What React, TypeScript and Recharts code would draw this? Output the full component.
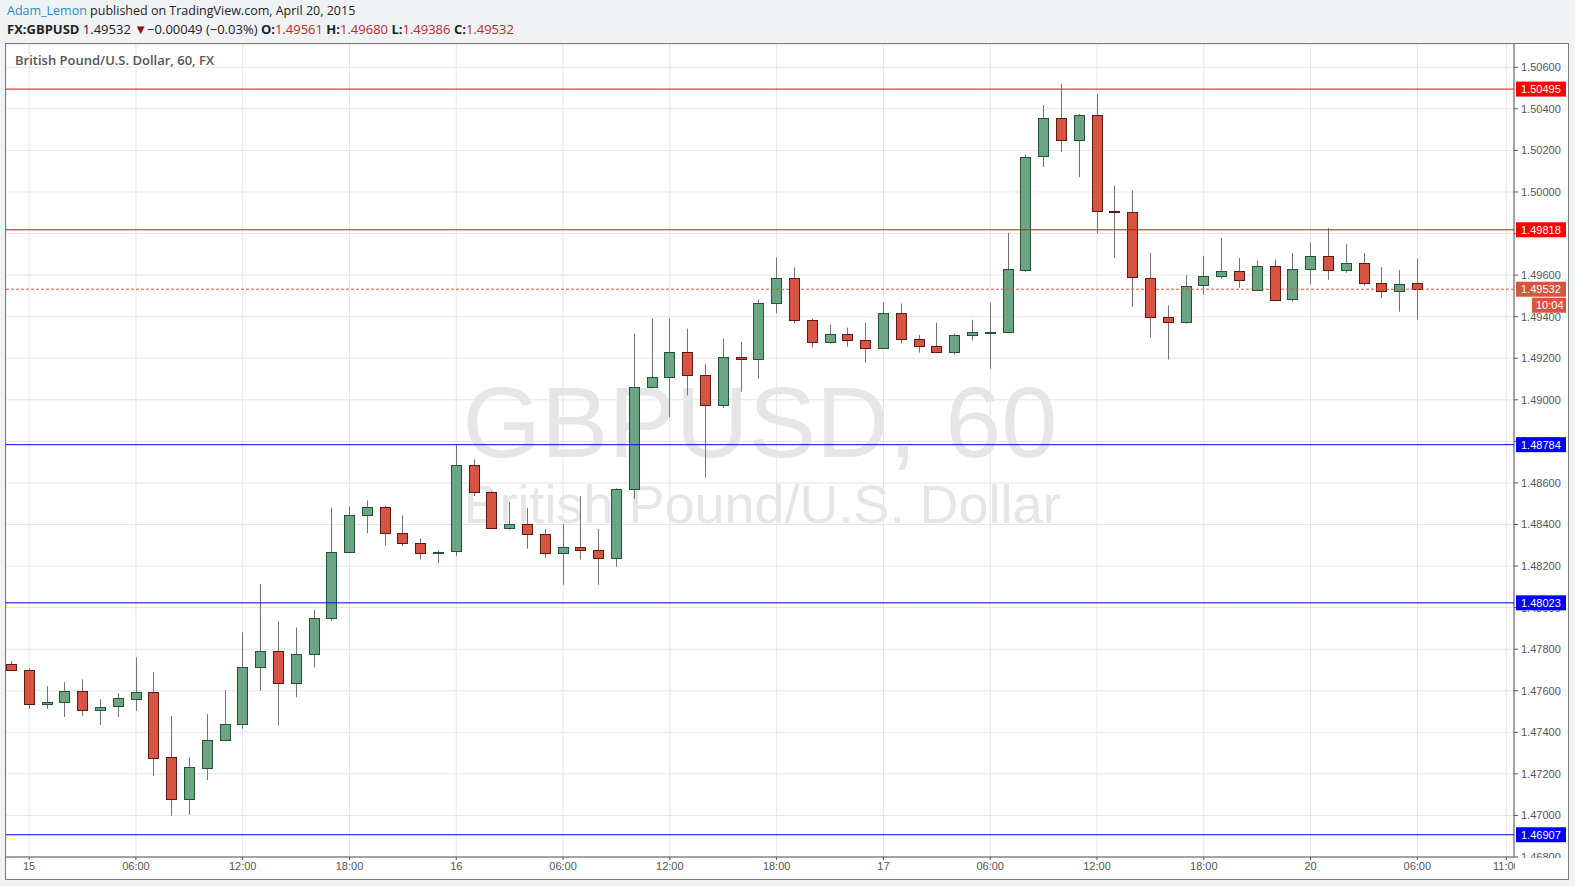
import React from 'react';
import { ComposedChart, Bar, XAxis, YAxis, CartesianGrid, ReferenceLine } from 'recharts';

// hourly bars, first one is 14th 23:00 (index -1), "15" is index 0
const firstIndex = -1;

const opens = [
  1.47731, 1.47702, 1.47538, 1.47548, 1.47601, 1.4751, 1.47524, 1.47563, 1.47596, 1.47279,
  1.47077, 1.47231, 1.47365, 1.47442, 1.47714, 1.47791, 1.47637, 1.47777, 1.4795, 1.48268,
  1.48447, 1.48485, 1.4836, 1.48312, 1.48263, 1.48268, 1.48684, 1.48554, 1.48382, 1.48401,
  1.48353, 1.48261, 1.4829, 1.48276, 1.48237, 1.48569, 1.49061, 1.49109, 1.4923, 1.49118,
  1.48973, 1.49205, 1.49195, 1.49466, 1.49587, 1.49384, 1.49277, 1.49316, 1.49287, 1.49248,
  1.49418, 1.49292, 1.49258, 1.49229, 1.49311, 1.49326, 1.49326, 1.49627, 1.5017, 1.50354,
  1.50247, 1.50368, 1.49908, 1.49903, 1.49588, 1.49399, 1.49375, 1.4955, 1.49594, 1.49618,
  1.49531, 1.49646, 1.49483, 1.49627, 1.4969, 1.49622, 1.49656, 1.4956, 1.49522, 1.49561,
];
const highs = [
  1.47744, 1.47707, 1.47622, 1.47641, 1.47655, 1.47559, 1.47588, 1.47761, 1.47689, 1.47478,
  1.47279, 1.47487, 1.47603, 1.47881, 1.48114, 1.47933, 1.47904, 1.4799, 1.48482, 1.48487,
  1.48516, 1.4849, 1.48443, 1.48333, 1.48275, 1.48786, 1.48713, 1.48561, 1.48508, 1.4848,
  1.48378, 1.48402, 1.48537, 1.48378, 1.48574, 1.49318, 1.4939, 1.4939, 1.49342, 1.49173,
  1.49294, 1.49279, 1.49482, 1.49685, 1.49637, 1.4939, 1.49361, 1.49347, 1.49371, 1.49468,
  1.49463, 1.49313, 1.49371, 1.49318, 1.49385, 1.49468, 1.49803, 1.50181, 1.50418, 1.5052,
  1.50375, 1.50472, 1.50031, 1.50006, 1.49706, 1.49454, 1.49599, 1.49691, 1.49778, 1.49682,
  1.4967, 1.49675, 1.49706, 1.49757, 1.49826, 1.49749, 1.49706, 1.49638, 1.49624, 1.4968,
];
const lows = [
  1.47696, 1.47513, 1.47513, 1.47474, 1.47479, 1.47436, 1.47474, 1.47503, 1.47191, 1.46998,
  1.47003, 1.47171, 1.47359, 1.47417, 1.476, 1.47433, 1.47568, 1.47712, 1.47934, 1.48265,
  1.48358, 1.48299, 1.48296, 1.48233, 1.48214, 1.48247, 1.48537, 1.48378, 1.48375, 1.48284,
  1.4824, 1.4811, 1.48231, 1.4811, 1.48197, 1.48523, 1.49055, 1.48916, 1.49021, 1.48626,
  1.48961, 1.49039, 1.49102, 1.49416, 1.49368, 1.49252, 1.49271, 1.49256, 1.49179, 1.49245,
  1.49271, 1.49227, 1.49226, 1.49218, 1.49285, 1.4915, 1.49325, 1.49616, 1.5012, 1.50192,
  1.50071, 1.498, 1.49683, 1.49446, 1.493, 1.49194, 1.49367, 1.49506, 1.49582, 1.49539,
  1.49526, 1.49481, 1.49472, 1.49554, 1.49578, 1.49611, 1.49549, 1.49491, 1.49424, 1.49386,
];
const closes = [
  1.47702, 1.47538, 1.47548, 1.47601, 1.4751, 1.47524, 1.47563, 1.47596, 1.47279, 1.47077,
  1.47231, 1.47365, 1.47442, 1.47716, 1.47791, 1.47637, 1.47777, 1.4795, 1.48268, 1.48447,
  1.48485, 1.4836, 1.48312, 1.48263, 1.48267, 1.48684, 1.48554, 1.48382, 1.48401, 1.48353,
  1.48261, 1.4829, 1.48276, 1.48237, 1.48569, 1.49061, 1.49109, 1.4923, 1.49119, 1.48973,
  1.49205, 1.49195, 1.49466, 1.49587, 1.49384, 1.49277, 1.49316, 1.49287, 1.49248, 1.49418,
  1.49292, 1.49258, 1.49229, 1.49311, 1.49326, 1.49327, 1.49627, 1.5017, 1.50354, 1.50247,
  1.50368, 1.49908, 1.49901, 1.49588, 1.49399, 1.49375, 1.49549, 1.49594, 1.49618, 1.49574,
  1.49646, 1.49483, 1.49627, 1.4969, 1.49622, 1.49656, 1.4956, 1.49522, 1.49555, 1.49532,
];

const tickIndexes = [0, 6, 12, 18, 24, 30, 36, 42, 48, 54, 60, 66, 72, 78, 83];
const tickLabels = ['15', '06:00', '12:00', '18:00', '16', '06:00', '12:00', '18:00', '17', '06:00', '12:00', '18:00', '20', '06:00', '11:00'];

const priceTicks = [
  1.468, 1.47, 1.472, 1.474, 1.476, 1.478, 1.48, 1.482, 1.484, 1.486, 1.488, 1.49, 1.492, 1.494,
  1.496, 1.498, 1.5, 1.502, 1.504, 1.506,
];

const resistanceLevels = [1.50495, 1.49818];
const supportLevels = [1.48784, 1.48023, 1.46907];
const lastPrice = 1.49532;
const countdown = '10:04';

const candles = opens.map((o, k) => ({
  i: firstIndex + k,
  open: o,
  high: highs[k],
  low: lows[k],
  close: closes[k],
  range: [lows[k], highs[k]],
}));

const xDomain = [-1.3, 83.43];
const yDomain = [1.468, 1.50712];

const axisFont = '"Liberation Sans", Arial, sans-serif';
const uiFont = '"Open Sans", "Noto Sans", sans-serif';

const Candle = (props: any) => {
  const { x, y, width, height, payload } = props;
  if (x == null || y == null) return null;
  const top = Math.min(y, y + height);
  const h = Math.abs(height);
  const { open, close, high, low } = payload;
  const k = h / (high - low);
  const yo = top + (high - open) * k;
  const yc = top + (high - close) * k;
  const up = close >= open;
  const cx = Math.round(x + width / 2) + 0.5;
  const bTop = Math.round(Math.min(yo, yc)) + 0.5;
  const bH = Math.max(Math.round(Math.abs(yo - yc)), 1);
  return (
    <g>
      <line x1={cx} x2={cx} y1={top} y2={top + h} stroke="#737373" strokeWidth={1} />
      <rect
        x={cx - 5}
        y={bTop}
        width={10}
        height={bH}
        fill={up ? '#6ba583' : '#d75442'}
        stroke={up ? '#225437' : '#5b1a13'}
        strokeWidth={1}
      />
    </g>
  );
};

const PriceTag = (props: any) => {
  const { viewBox, price, fill, extra } = props;
  if (!viewBox) return null;
  const xx = viewBox.x + viewBox.width;
  const yy = viewBox.y;
  return (
    <g>
      <rect x={xx + 2} y={yy - 7.5} width={50} height={15} fill={fill} />
      <text x={xx + 7} y={yy + 4} fill="#ffffff" fontSize={11} fontFamily={axisFont}>
        {price.toFixed(5)}
      </text>
      {extra && (
        <>
          <rect x={xx + 18} y={yy + 8.5} width={34} height={15} fill={fill} />
          <text x={xx + 22} y={yy + 20} fill="#ffffff" fontSize={11} fontFamily={axisFont}>
            {extra}
          </text>
        </>
      )}
    </g>
  );
};

const red = { color: '#c0262b' };

export default function App() {
  return (
    <div style={{ position: 'absolute', left: 0, top: 0, width: 1575, height: 886, background: '#f0f3f6', fontFamily: uiFont }}>
      <div style={{ position: 'absolute', left: 7, top: 2, lineHeight: '18px', color: '#222', whiteSpace: 'nowrap' }}>
        <div style={{ fontSize: 12.5 }}>
          <span style={{ color: '#2a8ac5' }}>Adam_Lemon</span> published on TradingView.com, April 20, 2015
        </div>
        <div style={{ fontSize: 13 }}>
          <b>FX:GBPUSD</b> 1.49532 <span style={{ color: '#8b1010', fontSize: 13 }}>▼</span>−0.00049 (−0.03%){' '}
          <b>O:</b><span style={red}>1.49561</span> <b>H:</b><span style={red}>1.49680</span>{' '}
          <b>L:</b><span style={red}>1.49386</span> <b>C:</b><span style={red}>1.49532</span>
        </div>
      </div>

      <div style={{ position: 'absolute', left: 5, top: 43, width: 1564, height: 837, border: '1px solid #7a7a7a', boxSizing: 'border-box', background: '#ffffff' }} />

      <svg style={{ position: 'absolute', left: 0, top: 0 }} width={1575} height={886}>
        <text x={760} y={457} textAnchor="middle" fontSize={101} fill="#e6e6e6" fontFamily={axisFont}>
          GBPUSD, 60
        </text>
        <text x={762} y={523} textAnchor="middle" fontSize={54} fill="#e6e6e6" fontFamily={axisFont}>
          British Pound/U.S. Dollar
        </text>
      </svg>

      <div style={{ position: 'absolute', left: 6, top: 44, fontFamily: axisFont }}>
        <ComposedChart width={1562} height={835} data={candles} margin={{ top: 0, right: 0, bottom: 0, left: 0 }}>
          <CartesianGrid stroke="#e6e6e6" />
          <XAxis
            type="number"
            dataKey="i"
            domain={xDomain}
            allowDataOverflow
            ticks={tickIndexes}
            interval={0}
            tickFormatter={(v: number) => tickLabels[tickIndexes.indexOf(v)] ?? ''}
            height={22}
            stroke="#555"
            tickSize={3}
            tickMargin={2}
            tick={{ fontSize: 11, fill: '#555' }}
          />
          <YAxis
            orientation="right"
            type="number"
            domain={yDomain}
            allowDataOverflow
            ticks={priceTicks}
            interval={0}
            width={54}
            stroke="#555"
            tickSize={4}
            tickMargin={3}
            tickFormatter={(v: number) => v.toFixed(5)}
            tick={{ fontSize: 11, fill: '#555' }}
          />
          <Bar dataKey="range" barSize={11} shape={<Candle />} isAnimationActive={false} />
        </ComposedChart>
      </div>

      {/* level lines and price tags drawn on a second layer so they sit above the price axis */}
      <div style={{ position: 'absolute', left: 6, top: 44, fontFamily: axisFont }}>
        <ComposedChart width={1562} height={835} data={candles} margin={{ top: 0, right: 0, bottom: 0, left: 0 }}>
          <XAxis type="number" dataKey="i" domain={xDomain} allowDataOverflow height={22} tick={false} axisLine={false} tickLine={false} />
          <YAxis orientation="right" type="number" domain={yDomain} allowDataOverflow width={54} tick={false} axisLine={false} tickLine={false} />
          {resistanceLevels.map((p) => (
            <ReferenceLine key={p} y={p} stroke="#ff0000" strokeWidth={1} label={<PriceTag price={p} fill="#ff0000" />} />
          ))}
          {supportLevels.map((p) => (
            <ReferenceLine key={p} y={p} stroke="#0000ff" strokeWidth={1} label={<PriceTag price={p} fill="#0000ff" />} />
          ))}
          <ReferenceLine
            y={lastPrice}
            stroke="#e0533f"
            strokeDasharray="3 2"
            strokeWidth={1}
            label={<PriceTag price={lastPrice} fill="#d9543f" extra={countdown} />}
          />
        </ComposedChart>
      </div>

      {/* empty corner box under the price axis, clips the last time label */}
      <div style={{ position: 'absolute', left: 1515, top: 858, width: 53, height: 21, background: '#ffffff' }} />

      <div style={{ position: 'absolute', left: 15, top: 51, fontSize: 13, fontWeight: 600, color: '#555', whiteSpace: 'nowrap' }}>
        British Pound/U.S. Dollar, 60, FX
      </div>
    </div>
  );
}
